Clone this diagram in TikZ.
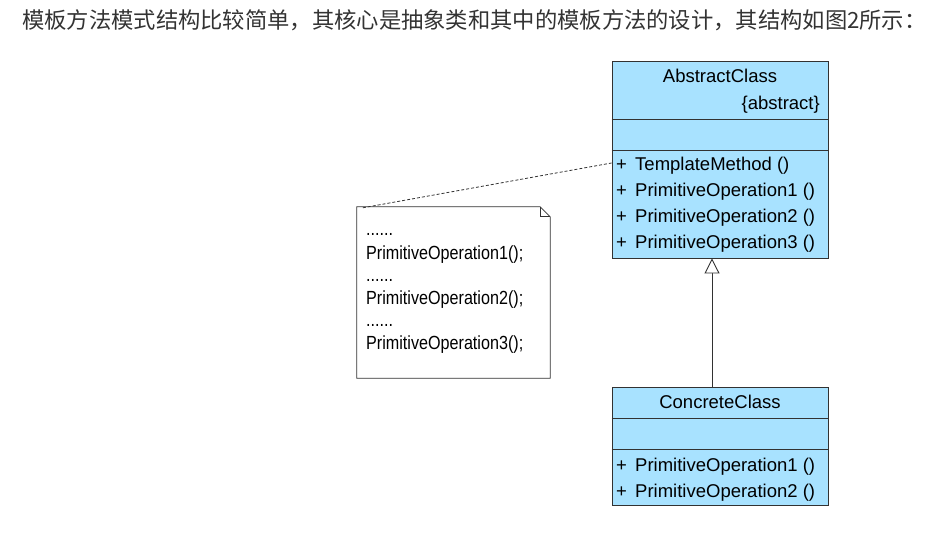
\documentclass[tikz,border=0pt]{standalone}
\usepackage{fontspec}
\setmainfont{Liberation Sans}
\newfontfamily\cjk{Noto Sans CJK SC}
\newfontfamily\narrowfont[FakeStretch=0.85]{Liberation Sans}
\usetikzlibrary{arrows.meta}
\definecolor{classfill}{RGB}{168,226,255}
\definecolor{linecol}{RGB}{50,50,50}
\definecolor{titlecol}{RGB}{51,51,51}
\tikzset{
  classbox/.style={draw=linecol, fill=classfill, line width=0.9pt, minimum width=216pt, inner sep=0pt},
  cls/.style={anchor=base west, inner sep=0pt, font=\fontsize{18.5}{20}\selectfont, text=black},
  clsname/.style={anchor=base, inner sep=0pt, font=\fontsize{18.5}{20}\selectfont, text=black},
  notetxt/.style={anchor=base west, inner sep=0pt, font=\narrowfont\fontsize{19}{20}\selectfont, text=black},
  sep/.style={draw=linecol, line width=0.9pt},
}
\begin{document}
\begin{tikzpicture}[x=1pt,y=-1pt]
\useasboundingbox (0,0) rectangle (947,545);
\node[anchor=west, inner sep=0pt, font=\cjk\fontsize{22.3}{24}\selectfont, text=titlecol] (title) at (22,20) {模板方法模式结构比较简单，其核心是抽象类和其中的模板方法的设计，其结构如图2所示：};

% AbstractClass
\node[classbox, minimum height=197pt] (A) at (720,159.5) {};
\draw[sep] (A.west |- 0,119) -- (A.east |- 0,119);
\draw[sep] (A.west |- 0,150) -- (A.east |- 0,150);
\node[clsname] (an) at (720,83) {AbstractClass};
\node[anchor=base east, inner sep=0pt, font=\fontsize{18.5}{20}\selectfont] (aab) at (820,110) {\{abstract\}};
\node[cls] (ap0) at (616,171) {+};
\node[cls] (ao0) at (635,171) {TemplateMethod ()};
\node[cls] (ap1) at (616,197) {+};
\node[cls] (ao1) at (635,197) {PrimitiveOperation1 ()};
\node[cls] (ap2) at (616,223) {+};
\node[cls] (ao2) at (635,223) {PrimitiveOperation2 ()};
\node[cls] (ap3) at (616,249) {+};
\node[cls] (ao3) at (635,249) {PrimitiveOperation3 ()};
\coordinate (tm) at (A.west |- 0,163);
\coordinate (ab) at (712,0 |- A.south);

% ConcreteClass
\node[classbox, minimum height=118pt] (C) at (720,446) {};
\draw[sep] (C.west |- 0,418) -- (C.east |- 0,418);
\draw[sep] (C.west |- 0,449) -- (C.east |- 0,449);
\node[clsname] (cn) at (720,408) {ConcreteClass};
\node[cls] (cp1) at (616,471) {+};
\node[cls] (co1) at (635,471) {PrimitiveOperation1 ()};
\node[cls] (cp2) at (616,497) {+};
\node[cls] (co2) at (635,497) {PrimitiveOperation2 ()};
\coordinate (ct) at (712,0 |- C.north);

% inheritance
\draw[linecol, line width=0.9pt, -{Triangle[open, length=15pt, width=15pt, fill=white]}] (ct) -- (ab);

% note
\node[minimum width=193pt, minimum height=171pt, inner sep=0pt] (N) at (453.5,292.5) {};
\draw[linecol, line width=0.8pt, fill=white]
  (N.north west) -- ([xshift=-10pt]N.north east) -- ([yshift=-10pt]N.north east) -- (N.south east) -- (N.south west) -- cycle;
\draw[linecol, line width=0.8pt] ([xshift=-10pt]N.north east) -- ([xshift=-10pt,yshift=-10pt]N.north east) -- ([yshift=-10pt]N.north east);
\node[notetxt] (d1) at (366,236) {......};
\node[notetxt] (n1) at (366,259) {PrimitiveOperation1();};
\node[notetxt] (d2) at (366,281) {......};
\node[notetxt] (n2) at (366,304) {PrimitiveOperation2();};
\node[notetxt] (d3) at (366,326) {......};
\node[notetxt] (n3) at (366,349) {PrimitiveOperation3();};
\coordinate (nc) at ([xshift=6pt,yshift=-1pt]N.north west);
\draw[linecol, line width=0.8pt, dash pattern=on 3pt off 2pt] (nc) -- (tm);
\end{tikzpicture}
\end{document}
